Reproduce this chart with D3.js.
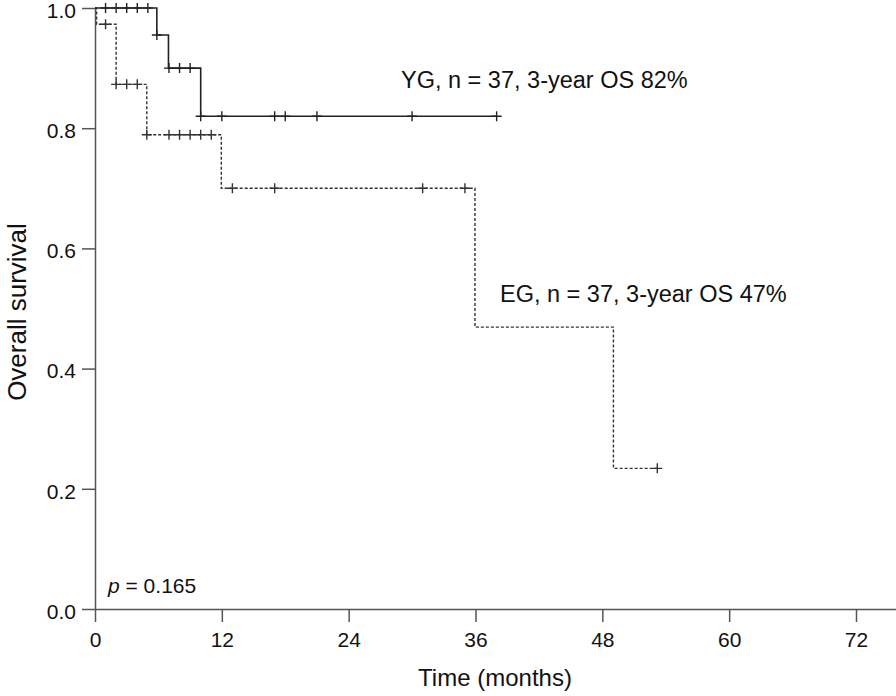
<!DOCTYPE html>
<html>
<head>
<meta charset="utf-8">
<script src="https://cdn.jsdelivr.net/npm/d3@7"></script>
<style>
  html, body { margin: 0; padding: 0; background: #fff; }
  svg { display: block; font-family: "Liberation Sans", Arial, sans-serif; }
</style>
</head>
<body>
<svg id="chart" width="896" height="696"></svg>
<script>
// ---- data ----
const xTicks = [0, 12, 24, 36, 48, 60, 72];
const yTicks = [0.0, 0.2, 0.4, 0.6, 0.8, 1.0];

// YG (solid)
const ygStepTimes = [0, 5.85, 6.95, 10.0];
const ygStepSurv  = [1.0, 0.955, 0.90, 0.82];
const ygEndTime   = 38;
const ygCensorTimes = [1, 2, 3, 4, 5, 5.85, 7, 8, 9, 10, 12, 17, 18, 21, 30, 38];

// EG (dashed)
const egStepTimes = [0, 0.15, 2, 4.9, 11.95, 35.95, 49.05];
const egStepSurv  = [1.0, 0.973, 0.873, 0.789, 0.70, 0.469, 0.234];
const egEndTime   = 53.2;
const egCensorTimes = [1, 2, 3, 4, 4.9, 7, 8, 9, 10, 11, 13, 17, 31, 35, 53.2];

const labels = {
  yg: "YG, n = 37, 3-year OS 82%",
  eg: "EG, n = 37, 3-year OS 47%",
  pval: "0.165",
  xTitle: "Time (months)",
  yTitle: "Overall survival"
};

// ---- layout ----
const svg = d3.select("#chart");
const x = d3.scaleLinear().domain([0, 72]).range([95, 856]);
const xAxisEnd = 896;
const y = d3.scaleLinear().domain([0, 1]).range([609, 8]);

const axisColor = "#555";
const textColor = "#111";

// x axis
const xScaleAxis = d3.scaleLinear().domain([0, x.invert(xAxisEnd)]).range([95, xAxisEnd]);
const gx = svg.append("g").attr("transform", `translate(0,${y(0)})`)
  .call(d3.axisBottom(xScaleAxis).tickValues(xTicks).tickFormat(d3.format("d"))
        .tickSize(13).tickSizeOuter(0).tickPadding(10));
gx.select(".domain").attr("stroke", axisColor).attr("stroke-width", 1.5);
gx.selectAll(".tick line").attr("stroke", axisColor).attr("stroke-width", 1.5);
gx.selectAll(".tick text").attr("fill", textColor).style("font-size", "21px")
  .style("font-family", "'Liberation Sans', Arial, sans-serif");

// y axis
const gy = svg.append("g").attr("transform", `translate(${x(0)},0)`)
  .call(d3.axisLeft(y).tickValues(yTicks).tickFormat(d3.format(".1f"))
        .tickSize(13).tickSizeOuter(0).tickPadding(6));
gy.select(".domain").attr("stroke", axisColor).attr("stroke-width", 1.5);
gy.selectAll(".tick line").attr("stroke", axisColor).attr("stroke-width", 1.5);
gy.selectAll(".tick text").attr("fill", textColor).style("font-size", "21px")
  .attr("dy", "0.44em")
  .style("font-family", "'Liberation Sans', Arial, sans-serif");

// ---- curves ----
function stepValue(times, surv, t) {
  let v = surv[0];
  for (let i = 0; i < times.length; i++) if (t >= times[i] - 1e-9) v = surv[i];
  return v;
}
const line = d3.line().x(d => x(d[0])).y(d => y(d[1])).curve(d3.curveStepAfter);

function drawCurve(times, surv, endTime, censors, opts) {
  const pts = times.map((t, i) => [t, surv[i]]);
  pts.push([endTime, surv[surv.length - 1]]);
  svg.append("path").datum(pts)
    .attr("d", line)
    .attr("fill", "none")
    .attr("stroke", opts.color)
    .attr("stroke-width", opts.width)
    .attr("stroke-dasharray", opts.dash || null);
  const cp = censors.map(t => [t, stepValue(times, surv, t)]);
  const g = svg.append("g").attr("stroke", opts.color).attr("stroke-width", 1.4);
  g.selectAll("path.c").data(cp).join("path")
    .attr("class", "c")
    .attr("d", d => {
      const cx = x(d[0]), cy = y(d[1]);
      return `M${cx - 5},${cy}H${cx + 5}M${cx},${cy - 5}V${cy + 5}`;
    });
}

drawCurve(egStepTimes, egStepSurv, egEndTime, egCensorTimes, { color: "#333", width: 1.4, dash: "3,2" });
drawCurve(ygStepTimes, ygStepSurv, ygEndTime, ygCensorTimes, { color: "#222", width: 1.6 });

// ---- annotations ----
svg.append("text").attr("x", 401).attr("y", 88)
  .attr("fill", textColor).style("font-size", "23.5px").text(labels.yg);
svg.append("text").attr("x", 500).attr("y", 302)
  .attr("fill", textColor).style("font-size", "23.5px").text(labels.eg);

const pt = svg.append("text").attr("x", 108).attr("y", 593)
  .attr("fill", textColor).style("font-size", "21px");
pt.append("tspan").style("font-style", "italic").text("p");
pt.append("tspan").text(" = " + labels.pval);

svg.append("text").attr("x", 495).attr("y", 686).attr("text-anchor", "middle")
  .attr("fill", textColor).style("font-size", "24px").text(labels.xTitle);

svg.append("text").attr("transform", "translate(26,312) rotate(-90)")
  .attr("text-anchor", "middle")
  .attr("fill", textColor).style("font-size", "26px").text(labels.yTitle);
</script>
</body>
</html>
